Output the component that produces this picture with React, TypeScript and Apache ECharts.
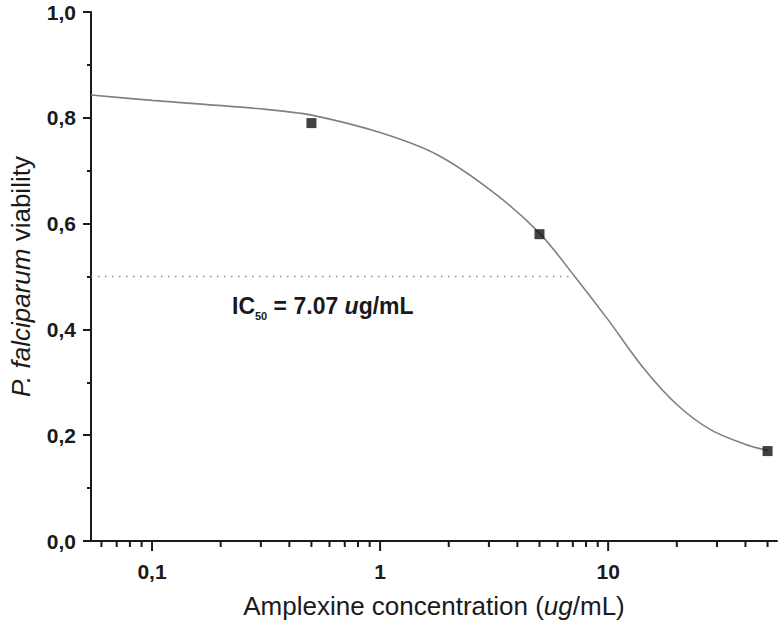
import React, { useEffect, useRef } from "react";
import * as echarts from "echarts";

// Measured points
const doses = [0.5, 5, 50];
const viability = [0.79, 0.58, 0.17];

// Fitted curve
const curveX = [0.054, 0.1, 0.316, 0.5, 1.0, 1.78, 3.16, 5.0, 7.08, 10, 14.1, 20, 28.2, 39.8, 50];
const curveY = [0.843, 0.833, 0.816, 0.805, 0.772, 0.73, 0.658, 0.582, 0.502, 0.418, 0.33, 0.258, 0.21, 0.183, 0.171];

// IC50 guide
const ic50 = 7.07;
const halfLevel = 0.5;

// Axis extents and tick values
const xMin = 0.054;
const xMax = 55;
const xMajorTicks = [0.1, 1, 10];
const xMinorTicks = [0.06, 0.07, 0.08, 0.09, 0.2, 0.3, 0.4, 0.5, 0.6, 0.7, 0.8, 0.9, 2, 3, 4, 5, 6, 7, 8, 9, 20, 30, 40, 50];
const xTickLabels: Record<string, string> = { "0.1": "0,1", "1": "1", "10": "10" };

const FONT = "'Liberation Sans', Arial, Helvetica, sans-serif";
const INK = "#1a1a1a";

export default function App() {
  const ref = useRef<HTMLDivElement>(null);

  useEffect(() => {
    if (!ref.current) return;
    const chart = echarts.init(ref.current, undefined, { renderer: "svg" });

    const tickData = [
      ...xMajorTicks.map((v) => [v, 1]),
      ...xMinorTicks.map((v) => [v, 0]),
    ];

    chart.setOption({
      animation: false,
      backgroundColor: "#ffffff",
      grid: { left: 90, right: 5, top: 12, bottom: 85, containLabel: false },
      xAxis: {
        type: "log",
        logBase: 10,
        min: xMin,
        max: xMax,
        axisLine: { show: true, lineStyle: { color: INK, width: 2 } },
        axisTick: { show: false },
        splitLine: { show: false },
        axisLabel: {
          margin: 20,
          color: INK,
          fontFamily: FONT,
          fontSize: 21,
          fontWeight: "bold",
          formatter: (v: number) => {
            const key = String(Math.round(v * 1000) / 1000);
            return xTickLabels[key] ?? "";
          },
        },
        name: "Amplexine concentration ({i|ug}/mL)",
        nameLocation: "middle",
        nameGap: 52,
        nameTextStyle: {
          color: INK,
          fontFamily: FONT,
          fontSize: 26,
          rich: {
            i: { fontFamily: FONT, fontSize: 26, fontStyle: "italic", color: INK },
          },
        },
      },
      yAxis: {
        type: "value",
        min: 0,
        max: 1,
        interval: 0.2,
        axisLine: { show: true, lineStyle: { color: INK, width: 2 } },
        axisTick: { show: true, inside: false, length: 8, lineStyle: { color: INK, width: 2 } },
        minorTick: { show: true, splitNumber: 2, length: 4, lineStyle: { color: INK, width: 2 } },
        splitLine: { show: false },
        axisLabel: {
          margin: 15,
          color: INK,
          fontFamily: FONT,
          fontSize: 21,
          fontWeight: "bold",
          formatter: (v: number) => v.toFixed(1).replace(".", ","),
        },
        name: "{i|P. falciparum} viability",
        nameLocation: "middle",
        nameRotate: 90,
        nameGap: 57,
        nameTextStyle: {
          color: INK,
          fontFamily: FONT,
          fontSize: 26,
          rich: {
            i: { fontFamily: FONT, fontSize: 26, fontStyle: "italic", color: INK },
          },
        },
      },
      series: [
        {
          type: "line",
          name: "IC50 guide",
          data: [
            [xMin, halfLevel],
            [ic50, halfLevel],
          ],
          showSymbol: false,
          symbol: "none",
          lineStyle: { color: "#8a8a8a", width: 1.3, type: [1.5, 5.5] },
          silent: true,
          z: 1,
        },
        {
          type: "line",
          name: "fit",
          data: curveX.map((x, i) => [x, curveY[i]]),
          smooth: 0.3,
          showSymbol: false,
          symbol: "none",
          lineStyle: { color: "#808080", width: 1.6 },
          silent: true,
          z: 2,
        },
        {
          type: "scatter",
          name: "viability",
          data: doses.map((x, i) => [x, viability[i]]),
          symbol: "rect",
          symbolSize: 10,
          itemStyle: { color: "#111111" },
          z: 3,
        },
        {
          type: "custom",
          name: "x ticks",
          silent: true,
          clip: false,
          data: tickData,
          encode: { x: 0, y: 1 },
          renderItem: (params: any, api: any) => {
            const p = api.coord([api.value(0), 0]);
            const len = api.value(1) ? 10 : 6;
            return {
              type: "line",
              shape: { x1: p[0], y1: p[1], x2: p[0], y2: p[1] + len },
              style: { stroke: INK, lineWidth: 2 },
            };
          },
          z: 4,
        },
      ],
      graphic: [
        {
          type: "text",
          left: 232,
          top: 294,
          style: {
            text: "{b|IC}{s|50}{b| = 7.07 }{bi|u}{b|g/mL}",
            rich: {
              b: { fontFamily: FONT, fontSize: 23, fontWeight: "bold", fill: INK, lineHeight: 32 },
              bi: { fontFamily: FONT, fontSize: 23, fontWeight: "bold", fontStyle: "italic", fill: INK, lineHeight: 32 },
              s: { fontFamily: FONT, fontSize: 11, fontWeight: "bold", fill: INK, lineHeight: 10, verticalAlign: "bottom" },
            },
          },
        },
      ],
    });

    return () => chart.dispose();
  }, []);

  return (
    <div
      ref={ref}
      style={{ position: "fixed", left: 0, top: 0, width: 782, height: 626, background: "#fff" }}
    />
  );
}
